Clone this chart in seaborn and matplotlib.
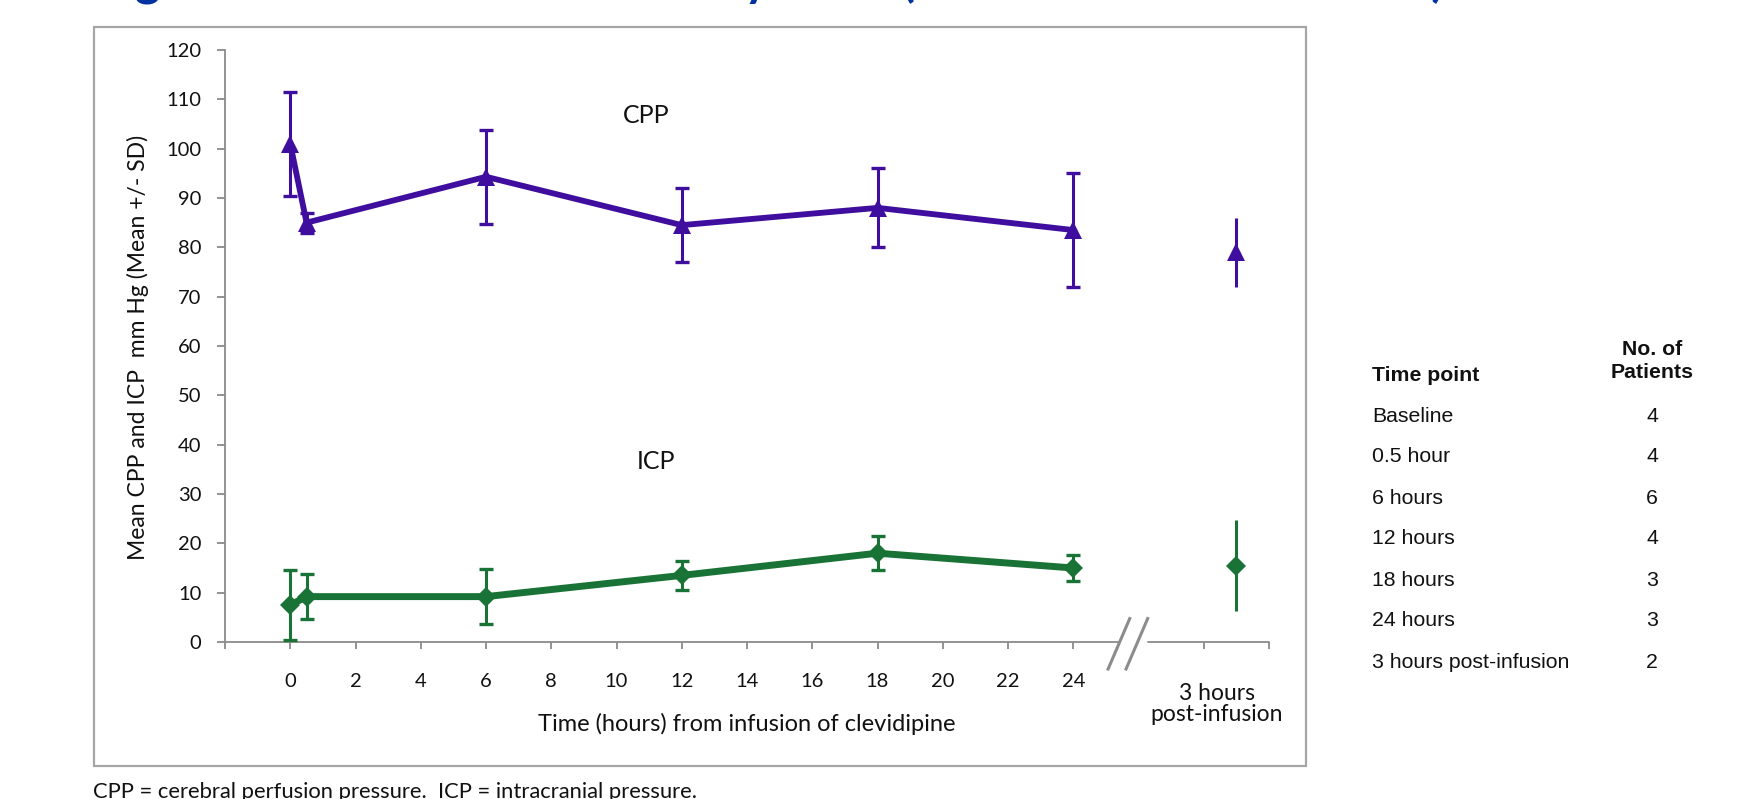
import matplotlib
matplotlib.use("Agg")
import matplotlib.pyplot as plt
import matplotlib.transforms as mtransforms
from matplotlib.patches import Rectangle
import seaborn as sns
import pandas as pd

# ---------------- data ----------------
time_hours = [0, 0.5, 6, 12, 18, 24]
cpp_mean = [101.0, 85.0, 94.3, 84.5, 88.0, 83.5]
cpp_sd = [10.5, 2.0, 9.5, 7.5, 8.0, 11.5]
icp_mean = [7.5, 9.2, 9.2, 13.5, 18.0, 15.0]
icp_sd = [7.0, 4.5, 5.6, 3.0, 3.5, 2.6]

post_x = 29            # plotted position of the "3 hours post-infusion" point
post_label = "3 hours\npost-infusion"
cpp_post_mean = [79.0]
cpp_post_sd = [7.0]
icp_post_mean = [15.5]
icp_post_sd = [9.2]

x_tick_values = list(range(-2, 25, 2)) + [28, 30]
x_tick_labels = [""] + [str(v) for v in range(0, 25, 2)] + ["", ""]
y_ticks = list(range(0, 121, 10))

table_time_points = ["Baseline", "0.5 hour", "6 hours", "12 hours", "18 hours",
                     "24 hours", "3 hours post-infusion"]
table_n_patients = [4, 4, 6, 4, 3, 3, 2]

title_text = "Figure 3. Mean CPP and ICP by Time (ICP-Monitored Patients)"
x_label = "Time (hours) from infusion of clevidipine"
y_label = "Mean CPP and ICP  mm Hg (Mean +/- SD)"
footnote = "CPP = cerebral perfusion pressure.  ICP = intracranial pressure."

# ---------------- style ----------------
sns.set_style("white")
plt.rcParams["font.family"] = ["Lato", "DejaVu Sans"]

CPP_COLOR = "#3f0e9f"
ICP_COLOR = "#1a7336"
AXIS_GRAY = "#8a8a8a"
TXT = "#111111"

W, H = 1742, 799
fig = plt.figure(figsize=(W / 100, H / 100), dpi=100)

# axes placement (pixel based)
ax_left, ax_right, ax_top, ax_bottom = 225, 1269, 50, 642
ax = fig.add_axes([ax_left / W, 1 - ax_bottom / H,
                   (ax_right - ax_left) / W, (ax_bottom - ax_top) / H])
ax.set_xlim(-2, 30)
ax.set_ylim(0, 120)
ax.patch.set_alpha(0)

df_cpp = pd.DataFrame({"t": time_hours, "v": cpp_mean})
df_icp = pd.DataFrame({"t": time_hours, "v": icp_mean})

eb = dict(elinewidth=2.2, capsize=5, capthick=2.4)
# error bars
ax.errorbar(time_hours, cpp_mean, yerr=cpp_sd, fmt="none", ecolor=CPP_COLOR,
            zorder=3, **eb)
ax.errorbar(time_hours, icp_mean, yerr=icp_sd, fmt="none", ecolor=ICP_COLOR,
            zorder=3, **eb)

# lines with markers
sns.lineplot(data=df_cpp, x="t", y="v", ax=ax, color=CPP_COLOR, linewidth=4.2,
             marker="^", markersize=13, markeredgewidth=0, zorder=4)
sns.lineplot(data=df_icp, x="t", y="v", ax=ax, color=ICP_COLOR, linewidth=5.0,
             marker="D", markersize=10, markeredgewidth=0, zorder=4)

# post-infusion points (not connected)
ax.errorbar([post_x], cpp_post_mean, yerr=cpp_post_sd, fmt="^", color=CPP_COLOR,
            ms=13, mew=0, zorder=4, **eb)
ax.errorbar([post_x], icp_post_mean, yerr=icp_post_sd, fmt="D", color=ICP_COLOR,
            ms=10, mew=0, zorder=4, **eb)

# axes cosmetics
ax.set_xlabel("")
ax.set_ylabel("")
for s in ["top", "right"]:
    ax.spines[s].set_visible(False)
ax.spines["left"].set_color(AXIS_GRAY)
ax.spines["left"].set_linewidth(1.3)
ax.spines["bottom"].set_color(AXIS_GRAY)
ax.spines["bottom"].set_linewidth(1.3)
ax.spines["bottom"].set_bounds(-2, 25.38)

trans = mtransforms.blended_transform_factory(ax.transData, ax.transAxes)
ax.plot([26.29, 30], [0, 0], transform=trans, color=AXIS_GRAY, lw=1.3,
        clip_on=False, zorder=2)
# break slashes
for dx in (0.0, 0.55):
    ax.plot([25.05 + dx, 25.75 + dx], [-0.048, 0.042], transform=trans,
            color="#8c8c8c", lw=2.2, clip_on=False, solid_capstyle="butt")

ax.set_xticks(x_tick_values)
ax.set_xticklabels(x_tick_labels)
ax.set_yticks(y_ticks)
ax.tick_params(axis="x", direction="out", length=5, width=1.3, color=AXIS_GRAY,
               pad=17, labelsize=14.5, labelcolor=TXT, bottom=True)
ax.tick_params(axis="y", direction="out", length=6, width=1.3, color=AXIS_GRAY,
               pad=11, labelsize=14.5, labelcolor=TXT, left=True)
ax.grid(False)

# post-infusion category label
ax.text(28.4, -0.105, post_label, transform=trans, ha="center", va="center",
        fontsize=16.5, color=TXT, linespacing=1.0)

# series labels
ax.text(10.9, 106.8, "CPP", ha="center", va="center", fontsize=18, color=TXT)
ax.text(11.2, 36.5, "ICP", ha="center", va="center", fontsize=18, color=TXT)

# axis titles
fig.text(138 / W, 1 - 347 / H, y_label, rotation=90, ha="center", va="center",
         fontsize=16.5, color=TXT)
fig.text(747 / W, 1 - 724 / H, x_label, ha="center", va="center",
         fontsize=17, color=TXT)

# chart border
fig.patches.append(Rectangle((94 / W, 1 - 766 / H), (1306 - 94) / W,
                             (766 - 27) / H, transform=fig.transFigure,
                             fill=False, edgecolor="#a6a6a6", linewidth=1.6))

# right-hand table
tf = ["Liberation Sans", "DejaVu Sans"]
fs_tab = 15.3
fig.text(1372 / W, 1 - 375 / H, "Time point", ha="left", va="center",
         fontsize=fs_tab, fontweight="bold", family=tf, color=TXT)
fig.text(1652 / W, 1 - 361 / H, "No. of\nPatients", ha="center", va="center",
         fontsize=fs_tab, fontweight="bold", family=tf, color=TXT,
         linespacing=1.25)
row_y0, row_dy = 416, 41
for i, (tp, n) in enumerate(zip(table_time_points, table_n_patients)):
    y = 1 - (row_y0 + i * row_dy) / H
    fig.text(1372 / W, y, tp, ha="left", va="center", fontsize=fs_tab,
             family=tf, color=TXT)
    fig.text(1652 / W, y, str(n), ha="center", va="center", fontsize=fs_tab,
             family=tf, color=TXT)

# title (cropped at the top in the reference) and footnote
fig.text(95 / W, 1 + 5 / H, title_text, ha="left", va="baseline", fontsize=35,
         fontweight="bold", color="#0033a0")
fig.text(93 / W, 1 - 792 / H, footnote, ha="left", va="center", fontsize=15.8,
         color=TXT)

fig.savefig("out.png", dpi=100, facecolor="white")
